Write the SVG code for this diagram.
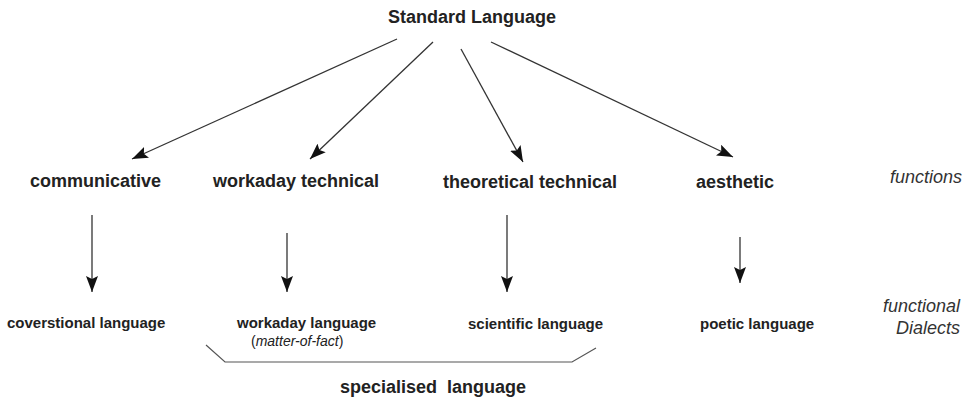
<svg xmlns="http://www.w3.org/2000/svg" width="967" height="400" viewBox="0 0 967 400">
<style>
.b{font-family:"Liberation Sans",Arial,sans-serif;font-weight:bold;fill:#222}
.t18{font-size:18px}
.t15{font-size:15px}
.it{font-family:"Liberation Sans",Arial,sans-serif;font-style:italic;fill:#333;font-size:18px}
.sm{font-family:"Liberation Sans",Arial,sans-serif;fill:#222;font-size:14px}
.ln{stroke:#333;stroke-width:1.3;fill:none}
.br{stroke:#555;stroke-width:1.2;fill:none}
</style>
<defs>
<marker id="ah" markerUnits="userSpaceOnUse" markerWidth="16" markerHeight="12" viewBox="0 0 16 12" refX="16" refY="6" orient="auto">
<path d="M0,0 L16,6 L0,12 L3,6 Z" fill="#111"/>
</marker>
</defs>
<rect width="967" height="400" fill="#fff"/>
<g id="standard"><text class="b t18" x="388" y="23">Standard Language</text></g>
<g id="communicative"><text class="b t18" x="30" y="187">communicative</text></g>
<g id="workaday-technical"><text class="b t18" x="213" y="187">workaday technical</text></g>
<g id="theoretical-technical"><text class="b t18" x="443" y="188">theoretical technical</text></g>
<g id="aesthetic"><text class="b t18" x="696" y="188">aesthetic</text></g>
<g id="functions"><text class="it" x="962" y="183" text-anchor="end">functions</text></g>
<g id="coverstional"><text class="b t15" x="7" y="328">coverstional language</text></g>
<g id="workaday-language"><text class="b t15" x="237" y="328">workaday language</text><text class="sm" x="251" y="346">(<tspan font-style="italic">matter-of-fact</tspan>)</text></g>
<g id="scientific"><text class="b t15" x="468" y="329">scientific language</text></g>
<g id="poetic"><text class="b t15" x="700" y="329">poetic language</text></g>
<g id="functional-dialects"><text class="it" x="960" y="312" text-anchor="end">functional</text><text class="it" x="960" y="334" text-anchor="end">Dialects</text></g>
<g id="specialised"><text class="b t18" x="340" y="393" style="white-space:pre" xml:space="preserve">specialised  language</text></g>
<g id="connectors">
<line class="ln" x1="397" y1="39" x2="132" y2="159" marker-end="url(#ah)"/>
<line class="ln" x1="433" y1="42" x2="310" y2="159" marker-end="url(#ah)"/>
<line class="ln" x1="461" y1="49" x2="523" y2="162" marker-end="url(#ah)"/>
<line class="ln" x1="491" y1="42" x2="733" y2="157" marker-end="url(#ah)"/>
<line class="ln" x1="92" y1="215" x2="92" y2="292" marker-end="url(#ah)"/>
<line class="ln" x1="287" y1="233" x2="287" y2="292" marker-end="url(#ah)"/>
<line class="ln" x1="507" y1="215" x2="507" y2="292" marker-end="url(#ah)"/>
<line class="ln" x1="740" y1="237" x2="740" y2="283" marker-end="url(#ah)"/>
<polyline class="br" points="206,345 225,362 572,362 596,348"/>
</g>
</svg>
